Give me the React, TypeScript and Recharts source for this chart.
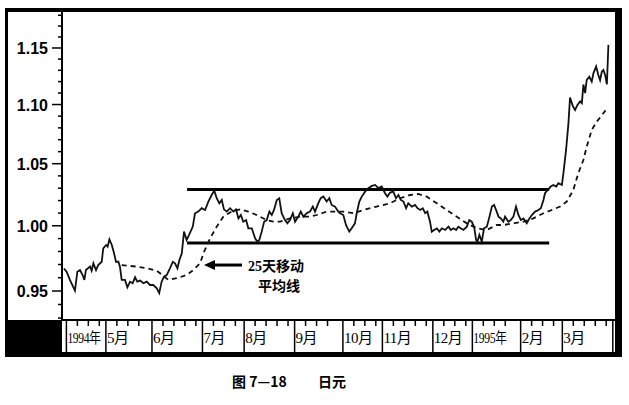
import { LineChart, Line, XAxis, YAxis, ReferenceLine } from "recharts"

// daily yen quote (trading-day index, value)
const price: [number, number][] = [
  [0.9, 0.967], [2.1, 0.9645], [3.6, 0.9583], [5.9, 0.9503], [7.0, 0.9645], [8.2, 0.9658],
  [9.4, 0.962], [10.2, 0.9583], [10.9, 0.9658], [12.8, 0.9684], [13.5, 0.9653], [14.3, 0.9709],
  [15.5, 0.9658], [16.5, 0.9696], [18.1, 0.9721], [18.8, 0.9824], [20.1, 0.985], [20.8, 0.9837],
  [21.6, 0.9894], [22.7, 0.985], [23.7, 0.9788], [24.6, 0.9721], [25.7, 0.9721], [26.4, 0.9684],
  [27.2, 0.9583], [28.7, 0.9583], [29.8, 0.9528], [31.0, 0.957], [32.2, 0.9558], [33.3, 0.9603],
  [34.3, 0.957], [35.6, 0.9578], [37.1, 0.9558], [38.6, 0.957], [40.1, 0.9545], [41.6, 0.9545],
  [43.2, 0.952], [44.3, 0.9484], [45.4, 0.957], [46.5, 0.9608], [47.7, 0.962], [49.2, 0.9671],
  [50.5, 0.9721], [51.5, 0.9709], [52.6, 0.9671], [53.5, 0.9734], [54.6, 0.9785], [55.6, 0.9954],
  [56.8, 0.9889], [57.9, 0.9928], [59.6, 0.9994], [60.6, 1.0099], [62.1, 1.0112], [63.7, 1.0139],
  [65.2, 1.0125], [66.7, 1.0191], [68.2, 1.0245], [69.4, 1.028], [70.5, 1.0219], [71.7, 1.0179],
  [72.8, 1.0205], [73.8, 1.013], [75.1, 1.0112], [76.6, 1.0139], [78.1, 1.0112], [79.3, 1.013],
  [80.4, 1.0058], [81.5, 1.0085], [82.6, 1.0032], [83.9, 1.0045], [84.9, 0.998], [86.5, 0.998],
  [88.0, 0.9902], [89.0, 0.9876], [89.9, 0.9889], [91.0, 0.9954], [92.1, 1.0032], [93.3, 1.0045],
  [94.5, 1.0112], [95.6, 1.0085], [96.6, 1.0125], [97.9, 1.0205], [99.0, 1.0219], [100.1, 1.0099],
  [101.6, 1.0045], [102.7, 1.0019], [103.9, 1.0045], [105.2, 1.0099], [106.2, 1.0032], [107.7, 1.0072],
  [108.8, 1.0112], [110.0, 1.0072], [111.5, 1.0099], [113.0, 1.0112], [114.3, 1.0152], [115.3, 1.0112],
  [116.8, 1.0179], [117.9, 1.0219], [119.1, 1.0232], [120.6, 1.0192], [121.8, 1.0219], [122.9, 1.0165],
  [124.4, 1.0152], [125.9, 1.0112], [126.7, 1.0099], [128.2, 1.0085], [129.4, 1.0006], [130.9, 0.9954],
  [132.0, 0.998], [133.5, 1.0019], [134.3, 1.0099], [135.5, 1.0192], [136.6, 1.0232], [138.1, 1.0272],
  [139.6, 1.03], [141.2, 1.0318], [142.7, 1.0326], [144.2, 1.03], [145.7, 1.0313], [147.2, 1.0259],
  [148.3, 1.0232], [149.5, 1.0264], [151.0, 1.0272], [152.2, 1.0219], [153.3, 1.0245], [154.4, 1.0205],
  [155.6, 1.0192], [156.8, 1.0139], [157.8, 1.0179], [159.4, 1.0152], [160.9, 1.0165], [162.0, 1.0139],
  [163.2, 1.0125], [164.4, 1.0139], [165.5, 1.0099], [166.5, 1.0112], [167.7, 1.0032], [168.5, 0.9954],
  [169.6, 0.9967], [170.8, 0.998], [172.0, 0.9954], [173.1, 0.998], [174.6, 0.9967], [176.1, 0.9993],
  [177.2, 0.9967], [178.4, 0.998], [179.6, 0.9967], [180.6, 0.9993], [181.7, 0.998], [182.9, 0.9967],
  [184.5, 0.9993], [185.6, 1.0045], [186.7, 1.0032], [187.8, 0.9993], [188.7, 0.9889], [189.3, 0.9876],
  [190.2, 0.9928], [191.3, 0.9876], [192.3, 0.998], [193.6, 0.9993], [194.8, 1.0072], [195.9, 1.0152],
  [196.9, 1.0165], [198.1, 1.0112], [198.9, 1.0072], [200.0, 1.0058], [201.1, 1.0032], [201.9, 1.0072],
  [203.4, 1.0032], [204.5, 1.0045], [205.7, 1.0072], [206.9, 1.0152], [208.0, 1.0085], [209.1, 1.0045],
  [210.3, 1.0058], [211.8, 1.0019], [213.0, 1.0058], [214.1, 1.0085], [215.6, 1.0112], [217.1, 1.0125],
  [218.2, 1.0139], [219.4, 1.0205], [220.1, 1.0259], [221.6, 1.0291], [222.7, 1.0313], [223.9, 1.0326],
  [225.2, 1.0313], [226.2, 1.034], [227.8, 1.0326], [228.5, 1.0422], [229.7, 1.0614], [230.8, 1.0843],
  [231.5, 1.106], [232.8, 1.0986], [233.8, 1.0953], [234.9, 1.0997], [236.1, 1.1027], [236.9, 1.1012],
  [237.6, 1.1175], [238.4, 1.11], [239.1, 1.1214], [240.3, 1.1243], [241.4, 1.12], [242.2, 1.1275],
  [243.4, 1.1334], [244.4, 1.1259], [245.2, 1.1214], [246.0, 1.1287], [246.7, 1.1303], [247.5, 1.1259],
  [248.3, 1.1175], [249.0, 1.1528],
]

// 25-day moving average
const movingAvg: [number, number][] = [
  [27.2, 0.9696], [34.0, 0.9684], [38.6, 0.9671], [43.2, 0.9653], [46.2, 0.9613], [48.5, 0.9583],
  [52.3, 0.9596], [56.8, 0.962], [59.8, 0.9658], [62.9, 0.9709], [64.7, 0.9796], [67.5, 0.9902],
  [70.5, 0.9993], [73.5, 1.0072], [77.3, 1.0112], [81.1, 1.013], [84.9, 1.0112], [88.7, 1.0085],
  [93.3, 1.0045], [96.3, 1.0032], [99.4, 1.0032], [103.9, 1.0058], [108.5, 1.0072], [113.0, 1.0072],
  [116.1, 1.0085], [120.6, 1.0112], [125.2, 1.0112], [128.2, 1.0112], [132.8, 1.0099], [137.3, 1.0125],
  [143.4, 1.0152], [149.5, 1.0179], [154.1, 1.0219], [158.6, 1.0245], [162.4, 1.0253], [166.2, 1.0232],
  [170.8, 1.0179], [175.3, 1.0125], [179.9, 1.0072], [184.5, 1.0019], [189.0, 0.998], [193.6, 0.9967],
  [198.1, 1.0006], [201.1, 1.0006], [205.7, 1.0019], [210.3, 1.0032], [214.8, 1.0058], [219.4, 1.0099],
  [223.2, 1.0125], [227.0, 1.0152], [230.0, 1.0192], [233.0, 1.0285], [235.3, 1.0423], [237.6, 1.0531],
  [239.1, 1.0641], [241.4, 1.0782], [243.7, 1.0853], [246.0, 1.0908], [248.3, 1.0964],
]

const monthStart = [2, 20, 41, 64, 83, 106, 128, 146, 169, 187, 209, 228, 251]
const monthLabel = ["1994年", "5月", "6月", "7月", "8月", "9月", "10月", "11月", "12月", "1995年", "2月", "3月", ""]

const resistance = 1.029
const support = 0.9865
const channelFrom = 57
const channelTo = 222

// where the "25天移动平均线" arrow points
const arrowTip: [number, number] = [64.7, 0.9696]
const arrowTail = 82

const priceData = price.map(([d, v]) => ({ d, v }))
const maData = movingAvg.map(([d, v]) => ({ d, v }))

const weekTicks: number[] = []
monthStart.forEach((s, i) => {
  const end = monthStart[i + 1] ?? 252
  for (let d = s + 5; d < end - 2; d += 5) weekTicks.push(d)
})
const xTicks = [...monthStart, ...weekTicks].sort((a, b) => a - b)

const yTicks: number[] = []
for (let i = 93; i <= 118; i++) yTicks.push(i / 100)

const cjk = '"Liberation Serif", "Noto Sans CJK SC", serif'

function MonthTick({ x, y, payload }: any) {
  const i = monthStart.indexOf(payload.value)
  if (i < 0) {
    return <line x1={x} x2={x} y1={y} y2={y + 6} stroke="#000" strokeWidth={1.5} />
  }
  // the year labels are squeezed into their month cell
  const label = monthLabel[i]
  const sx = label.length > 3 ? 0.78 : 1
  return (
    <g>
      <line x1={x} x2={x} y1={y} y2={y + 32} stroke="#000" strokeWidth={1.5} />
      <g transform={`translate(${x + 1},${y + 23}) scale(${sx},1)`}>
        <text x={0} y={0} fontSize={15} fontFamily={cjk} fill="#000" letterSpacing={-0.5}>
          {label}
        </text>
      </g>
    </g>
  )
}

function PriceTick({ x, y, payload }: any) {
  const v = payload.value as number
  const major = Math.round(v * 100) % 5 === 0
  return (
    <g>
      <line x1={x - (major ? 10 : 4)} x2={x} y1={y} y2={y} stroke="#000" strokeWidth={1.5} />
      {major && (
        <text
          x={x - 14}
          y={y}
          dy={6}
          textAnchor="end"
          fontSize={16}
          fontWeight="bold"
          fontFamily='"Liberation Sans", Arial, sans-serif'
          fill="#000"
        >
          {v.toFixed(2)}
        </text>
      )}
    </g>
  )
}

const arrowShape = (p: any) => {
  const { x1, y1, x2 } = p
  return (
    <g>
      <line x1={x1 + 8} y1={y1} x2={x2} y2={y1} stroke="#000" strokeWidth={3} />
      <polygon points={`${x1},${y1} ${x1 + 11},${y1 - 5} ${x1 + 11},${y1 + 5}`} fill="#000" />
      <text x={x2 + 6} y={y1 + 6} fontSize={14} fontWeight="bold" fontFamily={cjk} fill="#000">
        25天移动
      </text>
      <text x={x2 + 16} y={y1 + 26} fontSize={14} fontWeight="bold" fontFamily={cjk} fill="#000">
        平均线
      </text>
    </g>
  )
}

export default function App() {
  return (
    <div
      style={{
        position: "absolute",
        left: 0,
        top: 0,
        width: 629,
        height: 405,
        background: "#fff",
        overflow: "hidden",
      }}
    >
      <div style={{ position: "absolute", left: 0, top: 0 }}>
        <LineChart width={629} height={400} margin={{ top: 12, right: 14, bottom: 48, left: 0 }}>
          <XAxis
            dataKey="d"
            type="number"
            domain={[0, 252]}
            allowDataOverflow
            ticks={xTicks}
            interval={0}
            height={32}
            tickSize={0}
            tickMargin={0}
            tickLine={false}
            axisLine={{ stroke: "#000", strokeWidth: 2 }}
            tick={<MonthTick />}
          />
          <YAxis
            type="number"
            scale="log"
            domain={[0.9286, 1.183]}
            allowDataOverflow
            ticks={yTicks}
            interval={0}
            width={62}
            tickSize={0}
            tickMargin={0}
            tickLine={false}
            axisLine={{ stroke: "#000", strokeWidth: 2 }}
            tick={<PriceTick />}
          />
          <ReferenceLine
            segment={[{ x: channelFrom, y: resistance }, { x: channelTo, y: resistance }]}
            stroke="#000"
            strokeWidth={3}
          />
          <ReferenceLine
            segment={[{ x: channelFrom, y: support }, { x: channelTo, y: support }]}
            stroke="#000"
            strokeWidth={3}
          />
          <ReferenceLine
            segment={[{ x: arrowTip[0], y: arrowTip[1] }, { x: arrowTail, y: arrowTip[1] }]}
            shape={arrowShape}
          />
          <Line
            data={maData}
            dataKey="v"
            type="linear"
            stroke="#111"
            strokeWidth={1.8}
            strokeDasharray="5 4"
            dot={false}
            isAnimationActive={false}
          />
          <Line
            data={priceData}
            dataKey="v"
            type="linear"
            stroke="#111"
            strokeWidth={1.8}
            dot={false}
            isAnimationActive={false}
          />
        </LineChart>
      </div>
      <div
        style={{
          position: "absolute",
          left: 5,
          top: 320,
          width: 57,
          height: 37,
          background: "#000",
        }}
      />
      <div
        style={{
          position: "absolute",
          left: 5,
          top: 8,
          width: 617,
          height: 349,
          boxSizing: "border-box",
          borderStyle: "solid",
          borderColor: "#000",
          borderWidth: "4px 7px 5px 3px",
        }}
      />
      <div
        style={{
          position: "absolute",
          left: 232,
          top: 372,
          fontSize: 14,
          fontWeight: "bold",
          fontFamily: '"Noto Sans CJK SC", sans-serif',
          lineHeight: "18px",
          whiteSpace: "nowrap",
        }}
      >
        图 7—18
      </div>
      <div
        style={{
          position: "absolute",
          left: 318,
          top: 372,
          fontSize: 14,
          fontWeight: "bold",
          fontFamily: '"Noto Sans CJK SC", sans-serif',
          lineHeight: "18px",
        }}
      >
        日元
      </div>
    </div>
  )
}
